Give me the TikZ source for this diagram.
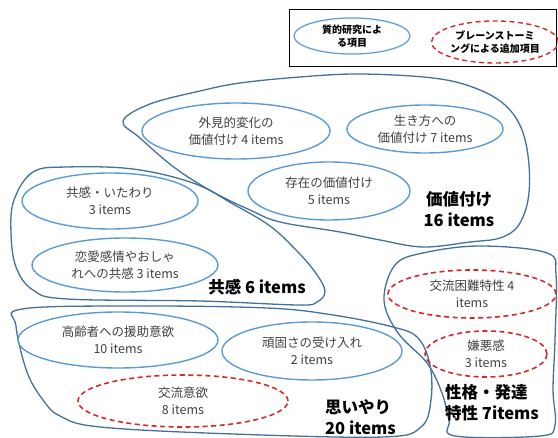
\documentclass[tikz,border=0pt]{standalone}
\usepackage{fontspec}
\setmainfont{Noto Sans CJK JP}
\usetikzlibrary{shapes.geometric}
\definecolor{ellblue}{HTML}{5B9BD5}
\definecolor{blobblue}{HTML}{41719C}
\definecolor{txtgray}{HTML}{404040}
\definecolor{dashred}{HTML}{D42A2A}
\tikzset{
  itemell/.style={ellipse, draw=ellblue, line width=1.4pt, inner sep=0pt, align=center,
    text=txtgray, font=\fontsize{12.5}{17}\selectfont},
  addell/.style={ellipse, draw=dashred, line width=1.6pt, dash pattern=on 5pt off 3.5pt, inner sep=0pt, align=center,
    text=txtgray, font=\fontsize{12.5}{17}\selectfont},
  blob/.style={draw=blobblue, line width=1.3pt},
  grouplabel/.style={align=center, text=black, font=\bfseries\fontsize{16.5}{21}\selectfont, inner sep=0pt},
  legtext/.style={font=\bfseries\fontsize{10}{13.5}\selectfont, text=black}
}
\begin{document}
\begin{tikzpicture}[x=1pt,y=-1pt]
\useasboundingbox (0,0) rectangle (558,438);
% legend
\node[draw=black, line width=1.2pt, minimum width=267pt, minimum height=57pt, inner sep=0pt, anchor=north west] (legend) at (289,9) {};
\node[itemell, minimum width=116pt, minimum height=36pt, legtext, line width=1.2pt] (leg1) at (352,36) {質的研究によ\\る項目};
\node[addell, minimum width=124pt, minimum height=42pt, legtext, line width=1.4pt] (leg2) at (495,42) {ブレーンストーミ\\ングによる追加項目};

% blobs
\draw[blob] plot[smooth cycle, tension=0.6] coordinates {
  (123,121) (150,104) (200,91) (240,83) (300,77) (360,74) (433,78) (475,88) (505,105)
  (522,130) (529,165) (528,200) (518,226) (500,238) (470,242) (423,247) (380,240)
  (340,232) (280,222) (250,210) (213,192) (175,168) (140,138)};
\draw[blob] plot[smooth cycle, tension=0.6] coordinates {
  (33,172) (67,167) (133,169) (193,183) (233,204) (270,226) (296,250) (315,272)
  (325,291) (317,302) (298,305) (200,301) (67,299) (33,290) (16,267) (11,233) (14,200)};
\draw[blob] plot[smooth cycle, tension=0.6] coordinates {
  (22,309) (133,306) (267,308) (333,315) (393,327) (418,338) (430,365) (431,400)
  (421,427) (383,437) (233,434) (100,427) (60,416) (43,400) (27,372) (16,326)};
\draw[blob] plot[smooth cycle, tension=0.6] coordinates {
  (395,265) (423,253) (480,246) (547,253) (556,275) (555,340) (553,390) (555,425)
  (540,436) (455,436) (449,420) (442,393) (427,363) (398,333) (384,300)};

% items
\node[itemell, minimum width=188pt, minimum height=56pt] (a1) at (236,131) {外見的変化の\\価値付け 4 items};
\node[itemell, minimum width=156pt, minimum height=48pt] (a2) at (425,129) {生き方への\\価値付け 7 items};
\node[itemell, minimum width=162pt, minimum height=58pt] (a3) at (329,191) {存在の価値付け\\5 items};
\node[itemell, minimum width=176pt, minimum height=56pt] (b1) at (110,201) {共感・いたわり\\3 items};
\node[itemell, minimum width=186pt, minimum height=54pt] (b2) at (125,265) {恋愛感情やおしゃ\\れへの共感 3 items};
\node[itemell, minimum width=200pt, minimum height=56pt] (c1) at (118,340) {高齢者への援助意欲\\10 items};
\node[itemell, minimum width=180pt, minimum height=58pt] (c2) at (312,351) {頑固さの受け入れ\\2 items};
\node[addell, minimum width=210pt, minimum height=52pt] (c3) at (183,401) {交流意欲\\8 items};
\node[addell, minimum width=168pt, minimum height=48pt] (d1) at (472,294) {交流困難特性 4\\items};
\node[addell, minimum width=122pt, minimum height=46pt] (d2) at (486,354) {嫌悪感\\3 items};

% group labels
\node[grouplabel] (gK) at (459,209) {価値付け\\16 items};
\node[grouplabel] (gE) at (257,287) {共感 6 items};
\node[grouplabel, align=left, anchor=west] (gO) at (325,417) {思いやり\\20 items};
\node[grouplabel, align=left, anchor=west] (gS) at (445,403) {性格・発達\\特性 7items};
\end{tikzpicture}
\end{document}
